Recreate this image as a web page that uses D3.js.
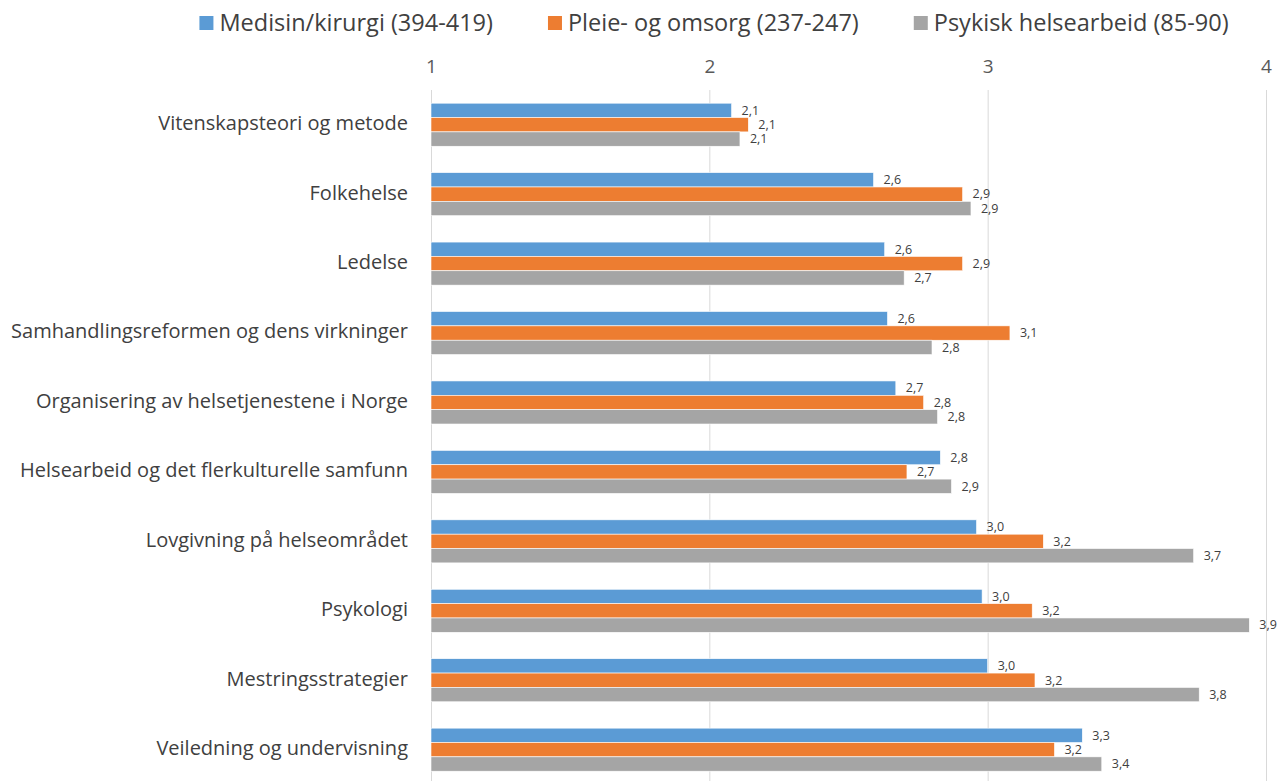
<!DOCTYPE html>
<html>
<head>
<meta charset="utf-8">
<script src="https://cdn.jsdelivr.net/npm/d3@7"></script>
<style>
  body { margin: 0; background: #fff; }
  svg { font-family: "Open Sans", Lato, sans-serif; }
</style>
</head>
<body>
<svg id="chart" width="1281" height="781"></svg>
<script>
// categories, top to bottom
const categories = [
  "Vitenskapsteori og metode",
  "Folkehelse",
  "Ledelse",
  "Samhandlingsreformen og dens virkninger",
  "Organisering av helsetjenestene i Norge",
  "Helsearbeid og det flerkulturelle samfunn",
  "Lovgivning på helseområdet",
  "Psykologi",
  "Mestringsstrategier",
  "Veiledning og undervisning"
]

const seriesNames = ["Medisin/kirurgi (394-419)", "Pleie- og omsorg (237-247)", "Psykisk helsearbeid (85-90)"]
const seriesColors = ["#5b9bd5", "#ed7d31", "#a5a5a5"]

// values
const medisin = [2.08, 2.59, 2.63, 2.64, 2.67, 2.83, 2.96, 2.98, 3.00, 3.34]
const pleie   = [2.14, 2.91, 2.91, 3.08, 2.77, 2.71, 3.20, 3.16, 3.17, 3.24]
const psykisk = [2.11, 2.94, 2.70, 2.80, 2.82, 2.87, 3.74, 3.94, 3.76, 3.41]

const xTicks = [1, 2, 3, 4]

const svg = d3.select("#chart")
const width = 1281, height = 781

//scales
const x = d3.scaleLinear().domain([1, 4]).range([431, 1266])
const y = d3.scaleBand().domain(categories).range([90, 784.4]).paddingInner(0.38).paddingOuter(0.19)
const ySub = d3.scaleBand().domain(d3.range(3)).range([0, y.bandwidth()])

const allSeries = [medisin, pleie, psykisk]
const fmt = v => d3.format(".1f")(v).replace(".", ",")

//gridlines + top tick labels
const axis = svg.append("g").attr("transform", "translate(0,90)")
  .call(d3.axisTop(x).tickValues(xTicks).tickSize(-(height - 90)).tickPadding(17).tickFormat(d3.format("d")))
axis.select(".domain").remove()
axis.selectAll(".tick line").attr("stroke", "#d9d9d9").attr("stroke-width", 1)
axis.selectAll(".tick text").attr("fill", "#595959").style("font-size", "19px").style("font-family", "Open Sans")

//bars
const groups = svg.append("g").selectAll("g")
  .data(categories)
  .join("g")
  .attr("transform", d => `translate(0,${y(d)})`)

groups.selectAll("rect")
  .data((c, i) => allSeries.map((s, k) => ({k: k, v: s[i]})))
  .join("rect")
  .attr("x", x(1))
  .attr("y", d => ySub(d.k))
  .attr("width", d => x(d.v) - x(1))
  .attr("height", ySub.bandwidth())
  .attr("fill", d => seriesColors[d.k])
  .attr("stroke", "#fff")
  .attr("stroke-width", 0.6)

//value labels
groups.selectAll("text")
  .data((c, i) => allSeries.map((s, k) => ({k: k, v: s[i]})))
  .join("text")
  .attr("x", d => x(d.v) + 10)
  .attr("y", d => ySub(d.k) + ySub.bandwidth() / 2 + 1)
  .attr("dominant-baseline", "middle")
  .attr("fill", "#404040")
  .style("font-size", "12.5px")
  .text(d => fmt(d.v))

//category labels
svg.append("g").selectAll("text")
  .data(categories)
  .join("text")
  .attr("x", 408)
  .attr("y", d => y(d) + y.bandwidth() / 2)
  .attr("text-anchor", "end")
  .attr("dominant-baseline", "middle")
  .attr("fill", "#404040")
  .style("font-size", "20px")
  .text(d => d)

//legend, laid out from measured text widths
const legend = svg.append("g")
const items = legend.selectAll("g").data(seriesNames).join("g")
items.append("rect").attr("width", 14).attr("height", 14).attr("y", 16)
  .attr("fill", (d, i) => seriesColors[i])
items.append("text").attr("x", 20).attr("y", 31)
  .attr("fill", "#404040").style("font-size", "23.5px")
  .text(d => d)

let cursor = 0
items.each(function () {
  const g = d3.select(this)
  g.attr("transform", `translate(${cursor},0)`)
  cursor += 20 + g.select("text").node().getComputedTextLength() + 55
})
const total = cursor - 55
legend.attr("transform", `translate(${714 - total / 2},0)`)
</script>
</body>
</html>
